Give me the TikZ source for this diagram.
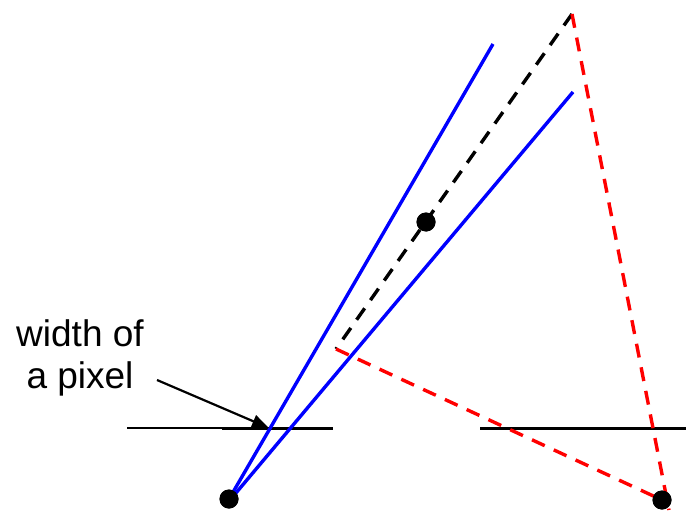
\documentclass[tikz,border=0pt]{standalone}
\usepackage{fontspec}
\setmainfont{Liberation Sans}
\usetikzlibrary{arrows.meta}
\begin{document}
\begin{tikzpicture}[x=1pt,y=-1pt,
	dot/.style={circle,fill=black,inner sep=0pt,minimum size=19pt},
	ray/.style={blue,line width=3.4pt},
	dashline/.style={line width=3.4pt,dash pattern=on 14pt off 10pt}]
				\useasboundingbox (0,0) rectangle (692,513);
				\coordinate (eye) at (225,506);
				\coordinate (rayA) at (493,44);
				\coordinate (rayB) at (573,92);
				\coordinate (corner) at (336,349);
				\coordinate (apex) at (572,14);
				\coordinate (redend) at (669,510);
				\node[dot] (p) at (229,499) {};
				\node[dot] (m) at (426,222) {};
				\node[dot] (q) at (662,500) {};
				% pixel planes
				\draw[line width=1.2pt] (127,428) -- (222,428);
				\draw[line width=3pt] (222,428) -- (333,428);
				\draw[line width=3pt] (480,428) -- (686,428);
				% rays
				\draw[ray] (eye) -- (rayA);
				\draw[ray] (eye) -- (rayB);
				\draw[dashline,black] (apex) -- (corner);
				\draw[dashline,red] (corner) -- (q.center);
				\draw[dashline,red] (apex) -- (redend);
				\node[dot] at (p) {};
				\node[dot] at (m) {};
				\node[dot] at (q) {};
				\node[align=center,font=\fontsize{37}{42}\selectfont] (lbl) at (80,358) {width of\\a pixel};
				\coordinate (tip) at (269,428);
				\draw[black,line width=2.2pt,-{Triangle[length=17pt,width=13pt]}] (157,380) -- (tip);
			\end{tikzpicture}
\end{document}
